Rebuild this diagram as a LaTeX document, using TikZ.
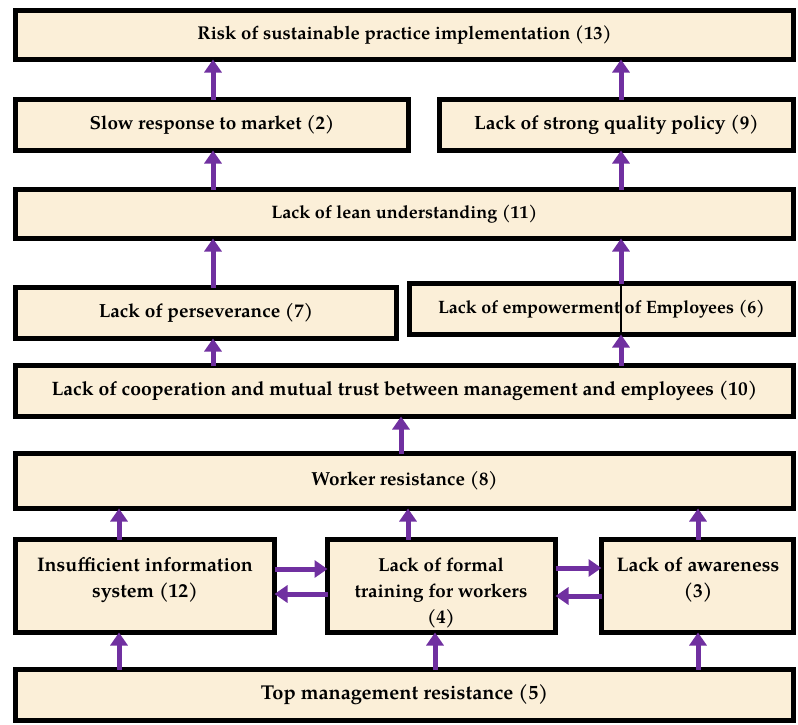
\documentclass[tikz,border=0pt]{standalone}
\usepackage{fontspec}
\setmainfont{texgyrepagella}[Extension=.otf, UprightFont=*-regular, BoldFont=*-bold, ItalicFont=*-italic, BoldItalicFont=*-bolditalic]
\usetikzlibrary{arrows.meta}
\definecolor{boxfill}{HTML}{FBEFD8}
\definecolor{arrpurple}{HTML}{7030A0}
\newcommand\fs[1]{\fontsize{#1}{26}\selectfont}
\tikzset{
  boxst/.style={draw=black, line width=5pt, fill=boxfill, inner sep=0pt, outer sep=0pt,
    font=\bfseries\fs{19}, align=center},
  lbl/.style={font=\bfseries\fs{19}, align=center, inner sep=0pt},
  arr/.style={draw=arrpurple, line width=5pt, -{Triangle[length=13pt,width=17pt]}},
  thin/.style={draw=black, line width=1.2pt}
}
\newcommand\mybox[6]{\node[boxst, minimum width={#4-#2-5}, minimum height={#5-#3-5}] (#1) at ({(#2+#4)/2},{(#3+#5)/2}) {#6};}
\begin{document}
\begin{tikzpicture}[x=1pt,y=-1pt]
\useasboundingbox (0,0) rectangle (798,724);
\mybox{b13}{13}{8}{796}{62}{\fs{18.5}Risk of sustainable practice implementation (13)}
\mybox{b2}{13}{97}{411}{153}{\fs{18.9}Slow response to market (2)}
\mybox{b9}{437}{97}{796}{153}{\fs{19.2}Lack of strong quality policy (9)}
\mybox{b11}{13}{187}{796}{241}{\fs{18}Lack of lean understanding (11)}
\mybox{b7}{13}{285}{399}{341}{\fs{19}Lack of perseverance (7)}
\mybox{b6}{407}{281}{796}{337}{\fs{17.9}Lack of empowerment of Employees (6)}
\mybox{b10}{13}{363}{796}{419}{\fs{19.4}Lack of cooperation and mutual trust between management and employees (10)}
\mybox{b8}{13}{451}{796}{511}{\fs{18.9}Worker resistance (8)}
\mybox{b12}{13}{537}{277}{635}{}
\mybox{b4}{325}{537}{558}{635}{}
\mybox{b3}{599}{537}{796}{635}{}
\mybox{b5}{13}{667}{796}{723}{\fs{20}Top management resistance (5)}
\node[lbl, font=\bfseries\fs{19.6}] (t12) at (145,580) {Insufficient information\\system (12)};
\node[lbl, font=\bfseries\fs{18.8}] (t4) at (441,593) {Lack of formal\\training for workers\\(4)};
\node[lbl, font=\bfseries\fs{19.6}] (t3) at (698,580) {Lack of awareness\\(3)};
% x positions of vertical arrows
\coordinate (xa) at (213,0);
\coordinate (xb) at (621,0);
\coordinate (xc) at (401,0);
\coordinate (xd) at (119,0);
\coordinate (xe) at (408,0);
\coordinate (xf) at (698,0);
\coordinate (xg) at (435,0);
\coordinate (ya) at (0,569);
\coordinate (yb) at (0,594);
\coordinate (yc) at (0,568);
\coordinate (yd) at (0,596);
\draw[thin] (b6.north -| xb) -- (b6.south -| xb);
\draw[arr] (b2.north -| xa) -- (b13.south -| xa);
\draw[arr] (b9.north -| xb) -- (b13.south -| xb);
\draw[arr] (b11.north -| xa) -- (b2.south -| xa);
\draw[arr] (b11.north -| xb) -- (b9.south -| xb);
\draw[arr] (b7.north -| xa) -- (b11.south -| xa);
\draw[arr] (b6.north -| xb) -- (b11.south -| xb);
\draw[arr] (b10.north -| xa) -- (b7.south -| xa);
\draw[arr] (b10.north -| xb) -- (b6.south -| xb);
\draw[arr] (b8.north -| xc) -- (b10.south -| xc);
\draw[arr] (b12.north -| xd) -- (b8.south -| xd);
\draw[arr] (b4.north -| xe) -- (b8.south -| xe);
\draw[arr] (b3.north -| xf) -- (b8.south -| xf);
\draw[arr] (b5.north -| xd) -- (b12.south -| xd);
\draw[arr] (b5.north -| xg) -- (b4.south -| xg);
\draw[arr] (b5.north -| xf) -- (b3.south -| xf);
\draw[arr] (b12.east |- ya) -- (b4.west |- ya);
\draw[arr] (b4.west |- yb) -- (b12.east |- yb);
\draw[arr] (b4.east |- yc) -- (b3.west |- yc);
\draw[arr] (b3.west |- yd) -- (b4.east |- yd);
\end{tikzpicture}
\end{document}
